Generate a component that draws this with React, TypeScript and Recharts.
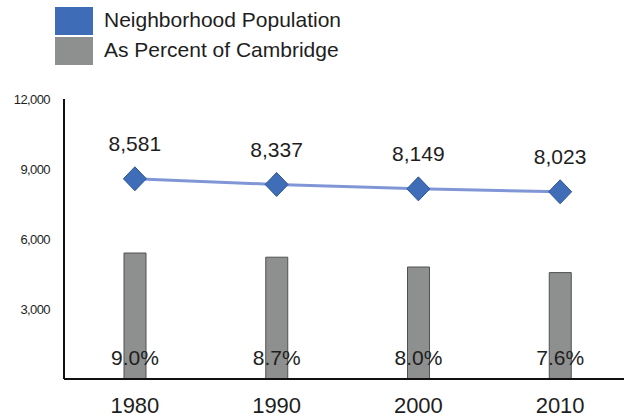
import React from 'react';
import { ComposedChart, Bar, Line, XAxis, YAxis, LabelList } from 'recharts';

const years = ['1980', '1990', '2000', '2010'];
const population = [8581, 8337, 8149, 8023];
const percentOfCambridge = [9.0, 8.7, 8.0, 7.6];
const popTicks = [3000, 6000, 9000, 12000];

const data = years.map((year, i) => ({
  year,
  population: population[i],
  percent: percentOfCambridge[i],
}));

const FONT = '"Liberation Sans", Arial, sans-serif';
const TEXT = '#1e1e1e';

const Diamond = (props: any) => {
  const { cx, cy } = props;
  if (cx == null || cy == null) return null;
  return (
    <polygon
      points={`${cx},${cy - 12} ${cx + 11.5},${cy} ${cx},${cy + 12} ${cx - 11.5},${cy}`}
      fill="#3f6db7"
      stroke="#2c5597"
      strokeWidth={1}
    />
  );
};

const PopLabel = (props: any) => {
  const { x, y, value } = props;
  return (
    <text x={x} y={y - 35} textAnchor="middle" dominantBaseline="central" fontSize={21} fontFamily={FONT} fill={TEXT}>
      {Number(value).toLocaleString('en-US')}
    </text>
  );
};

const PctLabel = (props: any) => {
  const { x, y, width, height, value } = props;
  return (
    <text x={x + width / 2} y={y + height - 22} textAnchor="middle" dominantBaseline="central" fontSize={21} fontFamily={FONT} fill={TEXT}>
      {Number(value).toFixed(1)}%
    </text>
  );
};

// legend drawn as plain html on top of the chart
const LegendBox = () => (
  <div style={{ position: 'absolute', left: 0, top: 0, width: 624, height: 70, fontFamily: FONT, color: TEXT, fontSize: 21 }}>
    <div style={{ position: 'absolute', left: 55, top: 7, width: 38, height: 28, background: '#3f6cb6' }} />
    <div style={{ position: 'absolute', left: 55, top: 37, width: 38, height: 28, background: '#8d908f' }} />
    <div style={{ position: 'absolute', left: 104, top: 6, lineHeight: '28px' }}>Neighborhood Population</div>
    <div style={{ position: 'absolute', left: 104, top: 36, lineHeight: '28px' }}>As Percent of Cambridge</div>
  </div>
);

export default function App() {
  return (
    <div style={{ position: 'absolute', left: 0, top: 0, width: 624, height: 417, overflow: 'hidden', background: '#fff' }}>
      <ComposedChart
        width={640}
        height={417}
        data={data}
        margin={{ top: 99, right: 9, bottom: 0, left: 0 }}
        barCategoryGap="0%"
      >
        <XAxis
          dataKey="year"
          height={38}
          tickLine={false}
          tickSize={0}
          tickMargin={18}
          axisLine={{ stroke: '#111', strokeWidth: 2 }}
          tick={{ fontSize: 22, fill: TEXT, fontFamily: FONT }}
        />
        <YAxis
          yAxisId="pop"
          width={64}
          domain={[0, 12000]}
          ticks={popTicks}
          tickFormatter={(v: number) => v.toLocaleString('en-US')}
          tickLine={false}
          tickSize={0}
          tickMargin={14}
          axisLine={{ stroke: '#111', strokeWidth: 2 }}
          tick={{ fontSize: 13, fill: TEXT, fontFamily: FONT, letterSpacing: -0.6 }}
        />
        <YAxis yAxisId="pct" orientation="right" hide domain={[0, 20]} />
        <Bar
          yAxisId="pct"
          dataKey="percent"
          barSize={22}
          fill="#8e908f"
          stroke="#505050"
          strokeWidth={1}
          isAnimationActive={false}
        >
          <LabelList dataKey="percent" content={<PctLabel />} />
        </Bar>
        <Line
          yAxisId="pop"
          dataKey="population"
          stroke="#8196d6"
          strokeWidth={3}
          dot={<Diamond />}
          activeDot={false}
          isAnimationActive={false}
        >
          <LabelList dataKey="population" content={<PopLabel />} />
        </Line>
      </ComposedChart>
      <LegendBox />
    </div>
  );
}
